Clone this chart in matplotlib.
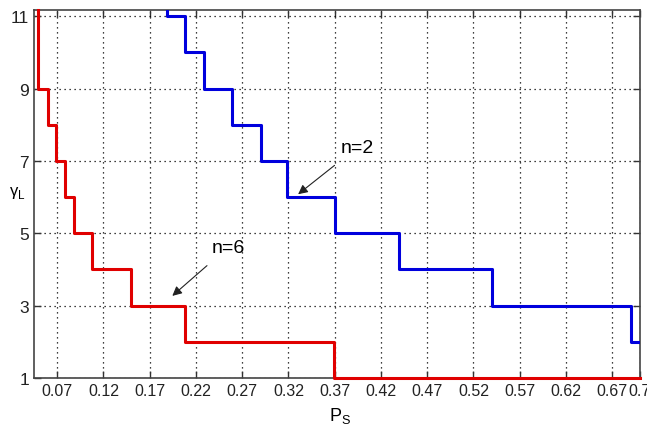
import matplotlib.pyplot as plt

# step curves (P_S thresholds, gamma_L levels)
ps_n6 = [0.049, 0.049, 0.060, 0.069, 0.079, 0.088, 0.108, 0.150, 0.208, 0.369, 0.70]
gl_n6 = [11.17, 9, 8, 7, 6, 5, 4, 3, 2, 1, 1]

ps_n2 = [0.1887, 0.1887, 0.2085, 0.229, 0.259, 0.290, 0.319, 0.370, 0.440, 0.540, 0.690, 0.70]
gl_n2 = [11.17, 11, 10, 9, 8, 7, 6, 5, 4, 3, 2, 2]

xticks = [0.07, 0.12, 0.17, 0.22, 0.27, 0.32, 0.37, 0.42, 0.47, 0.52, 0.57, 0.62, 0.67, 0.7]
xticklabels = ['0.07', '0.12', '0.17', '0.22', '0.27', '0.32', '0.37', '0.42',
               '0.47', '0.52', '0.57', '0.62', '0.67', '0.7']
yticks = [1, 3, 5, 7, 9, 11]

plt.rcParams['font.family'] = ['Liberation Sans Narrow', 'Liberation Sans', 'DejaVu Sans']

fig = plt.figure(figsize=(6.47, 4.27), dpi=100)
ax = fig.add_axes([0.0526, 0.1124, 0.9364, 0.8616])

ax.plot(ps_n6, gl_n6, drawstyle='steps-post', color='#e00000', lw=2.2,
        zorder=3, clip_on=False)
ax.plot(ps_n2, gl_n2, drawstyle='steps-post', color='#0000dd', lw=2.2, zorder=3)

ax.set_xlim(0.045, 0.7)
ax.set_ylim(1, 11.17)
ax.set_xticks(xticks)
ax.set_xticklabels(xticklabels)
ax.set_yticks(yticks)
ax.tick_params(direction='in', top=True, right=True, labelsize=11.5,
               length=5, width=1, colors='#333333', labelcolor='#222222')
ax.tick_params(axis='y', labelsize=12.5)
for s in ax.spines.values():
    s.set_color('#444444')
    s.set_linewidth(1.2)
ax.grid(True, color='black', linestyle=(0, (1, 3)), linewidth=0.9)

# annotations
ax.annotate('n=2', xy=(0.3305, 6.08), xytext=(0.3947, 7.38), fontsize=14,
            family=['Liberation Sans', 'DejaVu Sans'],
            ha='center', va='center',
            arrowprops=dict(arrowstyle='-|>', color='#222222', lw=0.8,
                            shrinkA=8, shrinkB=0))
ax.annotate('n=6', xy=(0.1945, 3.27), xytext=(0.255, 4.62), fontsize=14,
            family=['Liberation Sans', 'DejaVu Sans'],
            ha='center', va='center',
            arrowprops=dict(arrowstyle='-|>', color='#222222', lw=0.8,
                            shrinkA=8, shrinkB=0))

fig.text(0.026, 0.548, 'γ$_\\mathregular{L}$', fontsize=12, ha='center', va='center')
fig.text(0.525, 0.025, 'P$_\\mathregular{S}$', fontsize=13, ha='center', va='center')

fig.savefig('out.png', dpi=100)
